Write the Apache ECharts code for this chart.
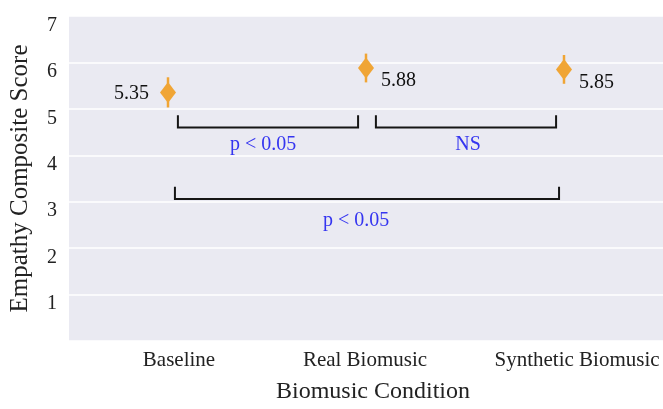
<!DOCTYPE html>
<html><head><meta charset="utf-8">
<script src="https://cdn.jsdelivr.net/npm/echarts@6/dist/echarts.min.js"></script>
<style>html,body{margin:0;padding:0;background:#fff}#c{width:663px;height:409px}</style>
</head><body><div id="c"></div>
<script>
var categories = ['Baseline', 'Real Biomusic', 'Synthetic Biomusic'];
var means = [5.35, 5.88, 5.85];
var meanLabels = ['5.35', '5.88', '5.85'];
var errLow = [5.03, 5.57, 5.54];
var errHigh = [5.68, 6.19, 6.16];
var yTicks = ['1', '2', '3', '4', '5', '6', '7'];
// significance brackets: start / end (category position), bottom / top (score)
var bracketStart = [0.05, 1.05, 0.035];
var bracketEnd = [0.96, 1.96, 1.975];
var bracketBottom = [4.6, 4.6, 3.06];
var bracketTop = [4.86, 4.86, 3.32];
var bracketText = ['p < 0.05', 'NS', 'p < 0.05'];
var bracketTextX = [0.48, 1.515, 0.95];
var bracketTextY = [4.22, 4.22, 2.6];

var SERIF = '"Liberation Serif", "Times New Roman", "DejaVu Serif", serif';
var chart = echarts.init(document.getElementById('c'));

chart.setOption({
  animation: false,
  grid: { left: 69, right: 0, top: 16, bottom: 64, show: true, backgroundColor: '#eaeaf2', borderWidth: 0 },
  xAxis: [{
    type: 'category', data: categories, boundaryGap: true,
    axisLine: { show: false }, axisTick: { show: false }, splitLine: { show: false },
    axisLabel: {
      interval: 0, hideOverlap: false,
      margin: 9, color: '#222', fontFamily: SERIF, fontSize: 21,
      formatter: function (v) { return '{' + (v === 'Baseline' ? 'a' : v === 'Real Biomusic' ? 'b' : 'c') + '|' + v + '}'; },
      rich: {
        a: { fontFamily: SERIF, fontSize: 21, color: '#222', padding: [0, 0, 0, 22] },
        b: { fontFamily: SERIF, fontSize: 21, color: '#222', padding: [0, 2, 0, 0] },
        c: { fontFamily: SERIF, fontSize: 21, color: '#222', padding: [0, 0, 2, 26] }
      }
    },
    name: 'Biomusic Condition', nameLocation: 'middle', nameGap: 39,
    nameTextStyle: { fontFamily: SERIF, fontSize: 24, color: '#222', padding: [0, 0, 0, 14] }
  }, {
    type: 'value', min: -0.5, max: 2.5, show: false
  }],
  yAxis: {
    type: 'value', min: 0, max: 7, interval: 1,
    axisLine: { show: false }, axisTick: { show: false },
    splitLine: { show: true, lineStyle: { color: '#ffffff', width: 1.5 } },
    axisLabel: {
      margin: 12, color: '#222', fontFamily: SERIF, fontSize: 20, verticalAlign: 'top',
      lineHeight: 19,
      formatter: function (v) { var s = String(v); return yTicks.indexOf(s) >= 0 ? s : ''; }
    },
    name: 'Empathy Composite Score', nameLocation: 'middle', nameGap: 36,
    nameTextStyle: { fontFamily: SERIF, fontSize: 25, color: '#222', padding: [0, 0, 0, 0] }
  },
  series: [{
    type: 'custom', xAxisIndex: 0, z: 2,
    data: categories.map(function (c, i) { return [i, errLow[i], errHigh[i]]; }),
    renderItem: function (params, api) {
      var a = api.coord([api.value(0), api.value(1)]);
      var b = api.coord([api.value(0), api.value(2)]);
      return { type: 'line', shape: { x1: a[0], y1: a[1], x2: b[0], y2: b[1] }, style: { stroke: '#f0a535', lineWidth: 2.5 } };
    }
  }, {
    type: 'scatter', xAxisIndex: 0, z: 3,
    symbol: 'diamond', symbolSize: [16, 21],
    itemStyle: { color: '#f0a535', opacity: 1 },
    data: means.map(function (v, i) {
      var lab = i === 0
        ? { show: true, position: 'left', distance: 11, offset: [0, 1] }
        : { show: true, position: 'right', distance: 7, offset: [0, 13] };
      lab.formatter = meanLabels[i];
      lab.fontFamily = SERIF; lab.fontSize = 20; lab.color = '#111';
      return { value: [i, v], label: lab };
    })
  }, {
    type: 'custom', xAxisIndex: 1, z: 4,
    data: bracketStart.map(function (s, i) { return [s, bracketEnd[i], bracketBottom[i], bracketTop[i], bracketTextX[i], bracketTextY[i]]; }),
    renderItem: function (params, api) {
      var x1 = api.value(0), x2 = api.value(1), yb = api.value(2), yt = api.value(3), tx = api.value(4), ty = api.value(5);
      var p1 = api.coord([x1, yt]), p2 = api.coord([x1, yb]), p3 = api.coord([x2, yb]), p4 = api.coord([x2, yt]);
      var tp = api.coord([tx, ty]);
      return {
        type: 'group', children: [
          { type: 'polyline', shape: { points: [p1, p2, p3, p4] }, style: { stroke: '#151515', lineWidth: 2, fill: null } },
          { type: 'text', x: tp[0], y: tp[1], style: { text: bracketText[params.dataIndex], fill: '#3535f0', font: '20px ' + SERIF, align: 'center', verticalAlign: 'middle' } }
        ]
      };
    }
  }]
});
</script></body></html>
